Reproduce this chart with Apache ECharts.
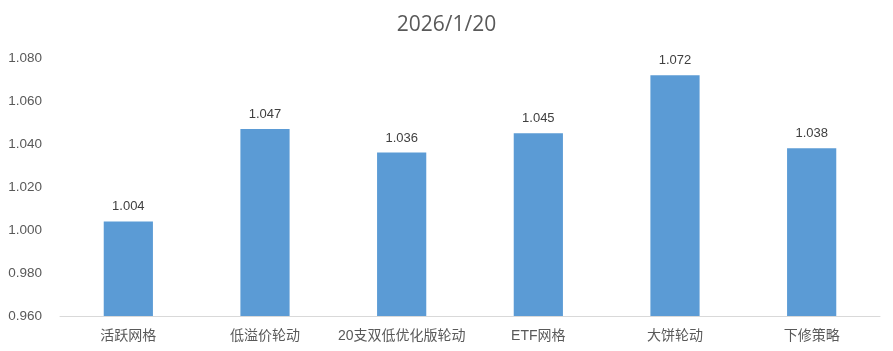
<!DOCTYPE html>
<html><head><meta charset="utf-8">
<script src="https://cdn.jsdelivr.net/npm/echarts@6/dist/echarts.min.js"></script>
<style>html,body{margin:0;padding:0;background:#fff}#c{width:893px;height:351px}</style>
</head><body><div id="c"></div>
<script>
const categories = ['活跃网格','低溢价轮动','20支双低优化版轮动','ETF网格','大饼轮动','下修策略'];
const values = [1.004, 1.047, 1.036, 1.045, 1.072, 1.038];
const titleText = '2026/1/20';
const yMin = 0.96, yMax = 1.08, yStep = 0.02;

const font = '"Liberation Sans","Noto Sans CJK SC",sans-serif';
const chart = echarts.init(document.getElementById('c'));
chart.setOption({
  animation: false,
  title: { text: titleText, left: 'center', top: 10,
    textStyle: { fontSize: 21, fontWeight: 'normal', color: '#595959', fontFamily: '"Open Sans","Noto Sans",sans-serif' } },
  grid: { left: 60, right: 13, top: 58, bottom: 35 },
  xAxis: { type: 'category', data: categories,
    axisLine: { lineStyle: { color: '#d9d9d9', width: 1 } },
    axisTick: { show: false },
    axisLabel: { color: '#595959', fontSize: 14, margin: 13, fontFamily: font, interval: 0 } },
  yAxis: { type: 'value', min: yMin, max: yMax, interval: yStep,
    axisLine: { show: false }, axisTick: { show: false }, splitLine: { show: false },
    axisLabel: { color: '#595959', fontSize: 13.5, margin: 18, fontFamily: font,
      formatter: v => v.toFixed(3) } },
  series: [{ type: 'bar', data: values, barWidth: '36%',
    itemStyle: { color: '#5b9bd5' },
    label: { show: true, position: 'top', distance: 8, color: '#404040', fontSize: 13, fontFamily: font,
      formatter: p => p.value.toFixed(3) } }]
});
</script></body></html>
